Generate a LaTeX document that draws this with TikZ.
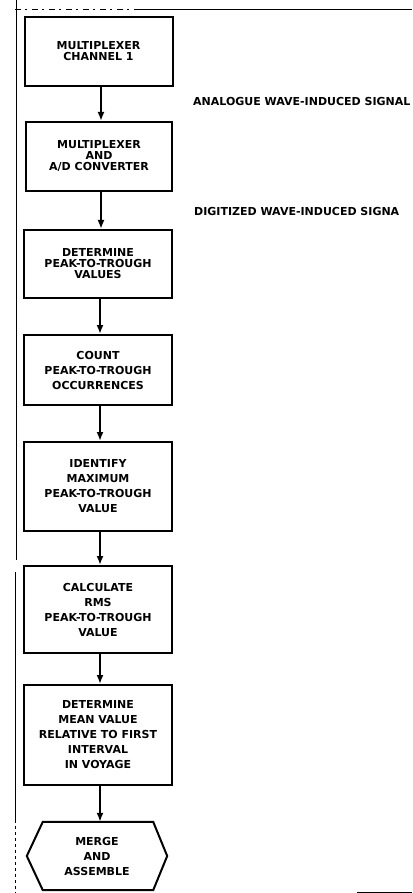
\documentclass[tikz,border=0pt]{standalone}
\usepackage{fontspec}
\setmainfont{DejaVu Sans}
\usetikzlibrary{arrows.meta}
\newcommand\flowfontA{\bfseries\fontsize{11}{11}\selectfont}
\newcommand\flowfontB{\bfseries\fontsize{11}{15}\selectfont}
\begin{document}
\begin{tikzpicture}[x=1pt,y=-1pt,
  box/.style={draw, line width=2pt, minimum width=148pt, align=center, inner sep=0pt},
  tight/.style={font=\flowfontA},
  loose/.style={font=\flowfontB},
  flow/.style={line width=1.8pt, -{Latex[length=9pt,width=7pt]}},
  lbl/.style={font=\flowfontA, anchor=west, inner sep=0pt},
  frame/.style={line width=1pt}]
\useasboundingbox (0,0) rectangle (412,893);
% frame lines
\coordinate (tl) at (15,10);
\coordinate (tm) at (140,10);
\coordinate (tr) at (412,10);
\draw[frame, dash pattern=on 6pt off 4pt on 2pt off 5pt] (tl) -- (tm);
\draw[frame] (tm) -- (tr);
\coordinate (l0) at (16,0);
\coordinate (l1) at (16,560);
\coordinate (l2) at (15,572);
\coordinate (l3) at (15,820);
\coordinate (l4) at (15,893);
\draw[frame] (l0) -- (l1);
\draw[frame] (l2) -- (l3);
\draw[frame, dash pattern=on 3pt off 3pt] (l3) -- (l4);
\coordinate (br0) at (357,892);
\coordinate (br1) at (412,892);
\draw[line width=0.8pt] (br0) -- (br1);
% boxes
\node[box, tight, minimum height=69pt] (b1) at (98.5,51.5) {MULTIPLEXER\\CHANNEL 1};
\node[box, tight, minimum height=69pt, minimum width=146pt] (b2) at (99,156.5) {MULTIPLEXER\\AND\\A/D CONVERTER};
\node[box, tight, minimum height=68pt] (b3) at (98,264) {DETERMINE\\PEAK-TO-TROUGH\\VALUES};
\node[box, loose, minimum height=70pt] (b4) at (98,370) {COUNT\\PEAK-TO-TROUGH\\OCCURRENCES};
\node[box, loose, minimum height=89pt] (b5) at (98,486.5) {IDENTIFY\\MAXIMUM\\PEAK-TO-TROUGH\\VALUE};
\node[box, loose, minimum height=87pt] (b6) at (98,609.5) {CALCULATE\\RMS\\PEAK-TO-TROUGH\\VALUE};
\node[box, loose, minimum height=100pt] (b7) at (98,735) {DETERMINE\\MEAN VALUE\\RELATIVE TO FIRST\\INTERVAL\\IN VOYAGE};
\node[loose, align=center, inner sep=0pt, minimum width=140pt, minimum height=68pt] (hx) at (97,856) {MERGE\\AND\\ASSEMBLE};
\draw[line width=2pt] ([xshift=16pt]hx.north west) -- ([xshift=-14pt]hx.north east) -- (hx.east)
  -- ([xshift=-14pt]hx.south east) -- ([xshift=16pt]hx.south west) -- (hx.west) -- cycle;
% connectors
\draw[flow] ([xshift=2.5pt]b1.south) -- ([xshift=2.5pt]b1.south |- b2.north);
\draw[flow] ([xshift=2pt]b2.south) -- ([xshift=2pt]b2.south |- b3.north);
\draw[flow] ([xshift=2pt]b3.south) -- ([xshift=2pt]b3.south |- b4.north);
\draw[flow] ([xshift=2pt]b4.south) -- ([xshift=2pt]b4.south |- b5.north);
\draw[flow] ([xshift=2pt]b5.south) -- ([xshift=2pt]b5.south |- b6.north);
\draw[flow] ([xshift=2pt]b6.south) -- ([xshift=2pt]b6.south |- b7.north);
\draw[flow] ([xshift=2pt]b7.south) -- ([xshift=2pt]b7.south |- hx.north);
% labels
\node[lbl] (t1) at (193,101) {ANALOGUE WAVE-INDUCED SIGNAL};
\node[lbl] (t2) at (194,211) {DIGITIZED WAVE-INDUCED SIGNA};
\end{tikzpicture}
\end{document}
